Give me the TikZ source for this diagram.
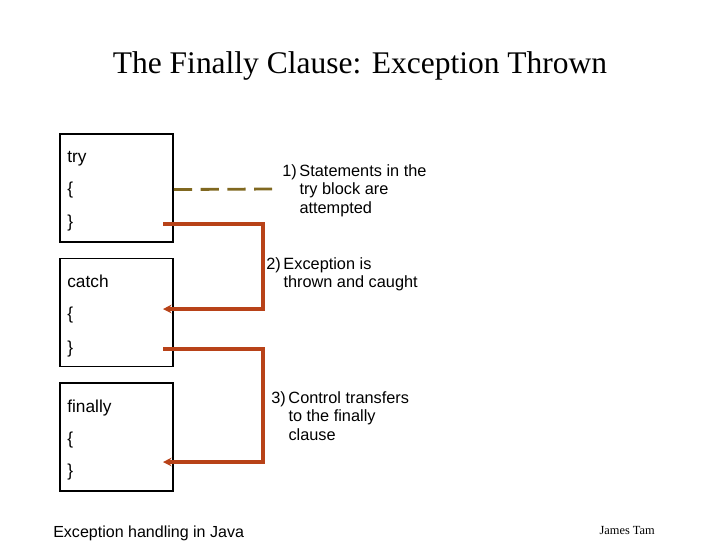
\documentclass[tikz,border=0pt]{standalone}
\usepackage{fontspec}
\setmainfont{Liberation Serif}
\setsansfont{Liberation Sans}
\usetikzlibrary{arrows.meta, positioning, calc}

\definecolor{flowred}{RGB}{184,66,24}
\definecolor{olivedash}{RGB}{128,104,32}

\begin{document}
\begin{tikzpicture}[
  x=0.025cm, y=-0.025cm,
  blockbox/.style={
    rectangle,
    draw,
    line width=1.2pt,
    minimum width=2.825cm,
    minimum height=2.7cm,
    inner sep=0pt
  },
  code/.style={
    anchor=base west,
    inner sep=0pt,
    font=\sffamily\fontsize{12.3}{14}\selectfont
  },
  note/.style={
    anchor=base west,
    inner sep=0pt,
    font=\sffamily\fontsize{11.6}{13.5}\selectfont
  },
  flowline/.style={draw=flowred, line width=2.2pt},
  arrow/.style={flowline, -{Stealth[length=6pt,width=6pt]}},
  attempt/.style={draw=olivedash, line width=2pt, dash pattern=on 13pt off 6pt}
]
\useasboundingbox (0,0) rectangle (720,540);

% ============================================================
% Title
% ============================================================

\node[anchor=base, inner sep=0pt, font=\fontsize{22.4}{26}\selectfont] (title) at (360,73)
  {The Finally Clause: Exception Thrown};

% ============================================================
% Blocks
% ============================================================

\node[blockbox] (trybox) at (116.5,188) {};
\node[blockbox] (catchbox) at (116.5,312.5) {};
\node[blockbox] (finallybox) at (116.5,437) {};

\node[code] (tryhead) at (67,162) {try};
\node[code] (tryopen) at (67,194) {\{};
\node[code] (tryclose) at (67,227) {\}};

\node[code] (catchhead) at (67,287) {catch};
\node[code] (catchopen) at (67,319) {\{};
\node[code] (catchclose) at (67,353) {\}};

\node[code] (finallyhead) at (67,412) {finally};
\node[code] (finallyopen) at (67,444) {\{};
\node[code] (finallyclose) at (67,476) {\}};

% ============================================================
% Notes
% ============================================================

\node[note] (step1) at (282,176) {%
  \begin{tabular}[t]{@{}l@{\,}l@{}}
  1) & Statements in the\\
     & try block are\\
     & attempted
  \end{tabular}};

\node[note] (step2) at (266,269) {%
  \begin{tabular}[t]{@{}l@{\,}l@{}}
  2) & Exception is\\
     & thrown and caught
  \end{tabular}};

\node[note] (step3) at (271,403) {%
  \begin{tabular}[t]{@{}l@{\,}l@{}}
  3) & Control transfers\\
     & to the finally\\
     & clause
  \end{tabular}};

% ============================================================
% Connectors
% ============================================================

\coordinate (tryout) at (trybox.east |- tryopen.center);
\coordinate (attempted) at (272,189);
\draw[attempt] (tryout) -- (attempted);

\coordinate (thrown) at (163,224);
\coordinate (caught) at (163,309);
\draw[arrow] (thrown) -| (263,309) -- (caught);

\coordinate (leavecatch) at (163,349);
\coordinate (enterfinally) at (163,462);
\draw[arrow] (leavecatch) -| (263,462) -- (enterfinally);

% ============================================================
% Footer
% ============================================================

\node[anchor=base west, inner sep=0pt, font=\sffamily\fontsize{11.4}{13}\selectfont] (topic) at (53,537)
  {Exception handling in Java};
\node[anchor=base east, inner sep=0pt, font=\fontsize{8.8}{10}\selectfont] (author) at (655,534)
  {James Tam};

\end{tikzpicture}
\end{document}
